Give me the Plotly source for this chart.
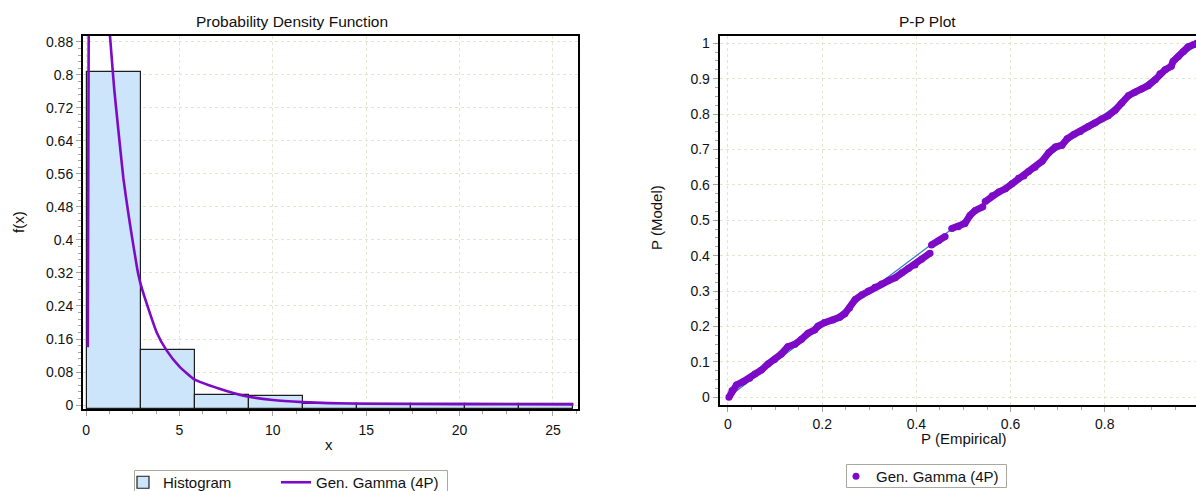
import plotly.graph_objects as go

W, H = 1196, 491

# ---------------- data ----------------
bin_edges = [0.03, 2.923, 5.816, 8.709, 11.602, 14.495, 17.388, 20.281, 23.174, 26.067]
hist_density = [0.808, 0.1335, 0.0242, 0.0218, 0.0025, 0.003, 0.003, 0.003, 0.0035]

pdf_x = [0.09, 0.12, 0.15, 0.3, 0.6, 0.9, 1.28, 1.43, 1.51, 1.78, 2.0, 2.26, 2.4, 2.78, 2.94,
         3.18, 3.8, 4.3, 5.0, 5.8, 7.1, 8.5, 10.0, 11.6, 13.0, 15.0, 20.0, 26.1]
pdf_y = [0.14, 0.6, 1.0, 1.35, 1.3, 1.1, 0.894, 0.808, 0.764, 0.643, 0.548, 0.465, 0.424, 0.32, 0.29,
         0.255, 0.174, 0.133, 0.093, 0.062, 0.040, 0.022, 0.012, 0.007, 0.0045, 0.003, 0.002, 0.0015]

pp_empirical = [0.002, 0.0085, 0.018, 0.032, 0.046, 0.057, 0.071, 0.085, 0.099, 0.113, 0.127, 0.142,
                0.156, 0.170, 0.184, 0.191, 0.205, 0.223, 0.237, 0.248, 0.258, 0.270, 0.284, 0.298,
                0.312, 0.326, 0.340, 0.355, 0.369, 0.383, 0.397, 0.411, 0.429, None,
                0.432, 0.447, 0.461, None,
                0.475, 0.489, 0.503, 0.514, 0.525, 0.541, None,
                0.546, 0.561, 0.575, 0.589, 0.603, 0.617, 0.628, 0.638, 0.652, 0.667, 0.681, 0.695,
                0.709, 0.720, 0.734, 0.748, 0.765, 0.779, 0.793, 0.807, 0.822, 0.836, 0.850, 0.864,
                0.878, 0.892, 0.907, 0.917, 0.928, 0.941, 0.945, 0.956, 0.967, 0.977, 0.988, 0.995, 1.0]
pp_model = [0.0, 0.019, 0.035, 0.044, 0.054, 0.066, 0.077, 0.094, 0.107, 0.122, 0.143, 0.150,
            0.164, 0.181, 0.190, 0.201, 0.211, 0.218, 0.226, 0.236, 0.252, 0.276, 0.289, 0.300,
            0.311, 0.320, 0.329, 0.338, 0.352, 0.364, 0.374, 0.390, 0.407, None,
            0.430, 0.442, 0.454, None,
            0.477, 0.482, 0.491, 0.514, 0.528, 0.538, None,
            0.553, 0.569, 0.580, 0.589, 0.603, 0.619, 0.625, 0.638, 0.650, 0.667, 0.691, 0.707,
            0.712, 0.730, 0.742, 0.751, 0.765, 0.775, 0.786, 0.795, 0.811, 0.831, 0.852, 0.862,
            0.871, 0.880, 0.897, 0.914, 0.925, 0.935, 0.949, 0.963, 0.977, 0.990, 0.996, 1.0, 1.0]

ref_line = [0, 1]

pdf_yticks = [0, 0.08, 0.16, 0.24, 0.32, 0.4, 0.48, 0.56, 0.64, 0.72, 0.8, 0.88]
pdf_yticktext = ["0", "0.08", "0.16", "0.24", "0.32", "0.4", "0.48", "0.56", "0.64", "0.72", "0.8", "0.88"]
pdf_xticks = [0, 5, 10, 15, 20, 25]
pp_ticks = [0, 0.1, 0.2, 0.3, 0.4, 0.5, 0.6, 0.7, 0.8, 0.9, 1.0]
pp_yticktext = ["0", "0.1", "0.2", "0.3", "0.4", "0.5", "0.6", "0.7", "0.8", "0.9", "1"]
pp_xticks = [0, 0.2, 0.4, 0.6, 0.8, 1.0]
pp_xticktext = ["0", "0.2", "0.4", "0.6", "0.8", "1"]

# ---------------- styling ----------------
FONT = "Liberation Sans, Arial, sans-serif"
PURPLE = "#7c0ac6"
FILL = "#cde5fb"
GRID = "#e4e4cf"
TICKC = "#a5a5a0"
BORDER = "#aaa9a0"

X1_RANGE = [-0.166, 26.34]
Y1_RANGE = [-0.0097, 0.8945]
X2_RANGE = [-0.0176, 0.9936]
Y2_RANGE = [-0.0218, 1.0206]

bin_centers = [(a + b) / 2 for a, b in zip(bin_edges[:-1], bin_edges[1:])]
bin_widths = [b - a for a, b in zip(bin_edges[:-1], bin_edges[1:])]
base = Y1_RANGE[0]

fig = go.Figure()

fig.add_trace(go.Bar(
    x=bin_centers, y=[h - base for h in hist_density], base=base, width=bin_widths,
    marker=dict(color=FILL, line=dict(color="#1e1e1e", width=1.2)),
    name="Histogram", xaxis="x", yaxis="y", legend="legend", hoverinfo="skip"))

fig.add_trace(go.Scatter(
    x=pdf_x, y=pdf_y, mode="lines", line=dict(color=PURPLE, width=2.6, shape="spline", smoothing=0.5),
    name="Gen. Gamma (4P)", xaxis="x", yaxis="y", legend="legend3"))

fig.add_trace(go.Scatter(
    x=ref_line, y=ref_line, mode="lines", line=dict(color="#2e74c4", width=1.2),
    showlegend=False, xaxis="x2", yaxis="y2"))

fig.add_trace(go.Scatter(
    x=pp_empirical, y=pp_model, mode="lines", line=dict(color=PURPLE, width=7),
    showlegend=False, xaxis="x2", yaxis="y2", connectgaps=False))

fig.add_trace(go.Scatter(
    x=pp_empirical, y=pp_model, mode="markers", marker=dict(color=PURPLE, size=7),
    name="Gen. Gamma (4P)", xaxis="x2", yaxis="y2", legend="legend2"))

axis_common = dict(
    showline=True, linecolor="black", linewidth=2,
    ticks="outside", ticklen=5, tickcolor=TICKC, tickwidth=1,
    showgrid=True, gridcolor=GRID, griddash="dot", gridwidth=1,
    zeroline=False, tickfont=dict(family=FONT, size=14, color="#111"),
)

leg_font = dict(family=FONT, size=15, color="#111")
leg_common = dict(orientation="h", xanchor="left", yanchor="top",
                  borderwidth=0, bgcolor="rgba(0,0,0,0)", font=leg_font)

fig.update_layout(
    width=W, height=H, margin=dict(l=0, r=0, t=0, b=0, autoexpand=False),
    paper_bgcolor="white", plot_bgcolor="white",
    font=dict(family=FONT, size=15, color="#111"),
    bargap=0,
    xaxis=dict(domain=[83 / W, 578 / W], range=X1_RANGE, anchor="y",
               tickvals=pdf_xticks, mirror=True, ticklabelstandoff=2,
               minor=dict(dtick=1.25, tick0=0, ticks="outside", ticklen=3, tickcolor=TICKC, showgrid=False),
               **axis_common),
    yaxis=dict(domain=[1 - 409 / H, 1 - 36 / H], range=Y1_RANGE, anchor="x",
               tickvals=pdf_yticks, ticktext=pdf_yticktext, mirror=True,
               minor=dict(dtick=0.016, tick0=0, ticks="outside", ticklen=3, tickcolor=TICKC, showgrid=False),
               **axis_common),
    xaxis2=dict(domain=[719.7 / W, 1.0], range=X2_RANGE, anchor="y2",
                tickvals=pp_xticks, ticktext=pp_xticktext, mirror=True,
                minor=dict(dtick=0.05, tick0=0, ticks="outside", ticklen=3, tickcolor=TICKC, showgrid=False),
                **axis_common),
    yaxis2=dict(domain=[1 - 405 / H, 1 - 36 / H], range=Y2_RANGE, anchor="x2",
                tickvals=pp_ticks, ticktext=pp_yticktext, mirror=False,
                minor=dict(dtick=0.025, tick0=0, ticks="outside", ticklen=3, tickcolor=TICKC, showgrid=False),
                **axis_common),
    legend=dict(x=123 / W, y=1 - 466 / H, **leg_common),
    legend3=dict(x=276 / W, y=1 - 466 / H, **leg_common),
    legend2=dict(x=836 / W, y=1 - 460 / H, **leg_common),
    showlegend=True,
)

# legend frames (left one runs past the page bottom as in the original)
fig.add_shape(type="rect", xref="paper", yref="paper",
              x0=134.5 / W, x1=447.5 / W, y0=1 - 500 / H, y1=1 - 470.5 / H,
              line=dict(color=BORDER, width=1), fillcolor="rgba(0,0,0,0)", layer="above")
fig.add_shape(type="rect", xref="paper", yref="paper",
              x0=846.5 / W, x1=1006.5 / W, y0=1 - 487.5 / H, y1=1 - 464.5 / H,
              line=dict(color=BORDER, width=1), fillcolor="rgba(0,0,0,0)", layer="above")

def ann(text, x, y, angle=0, size=15):
    fig.add_annotation(text=text, x=x / W, y=1 - y / H, xref="paper", yref="paper",
                       showarrow=False, textangle=angle, xanchor="center", yanchor="middle",
                       font=dict(family=FONT, size=size, color="#111"))

ann("Probability Density Function", 292, 21, size=15.5)
ann("P-P Plot", 927, 21, size=15.5)
ann("x", 329, 444)
ann("f(x)", 18, 222, angle=-90)
ann("P (Empirical)", 964, 438)
ann("P (Model)", 657, 218, angle=-90)

fig.write_html("out.html")
